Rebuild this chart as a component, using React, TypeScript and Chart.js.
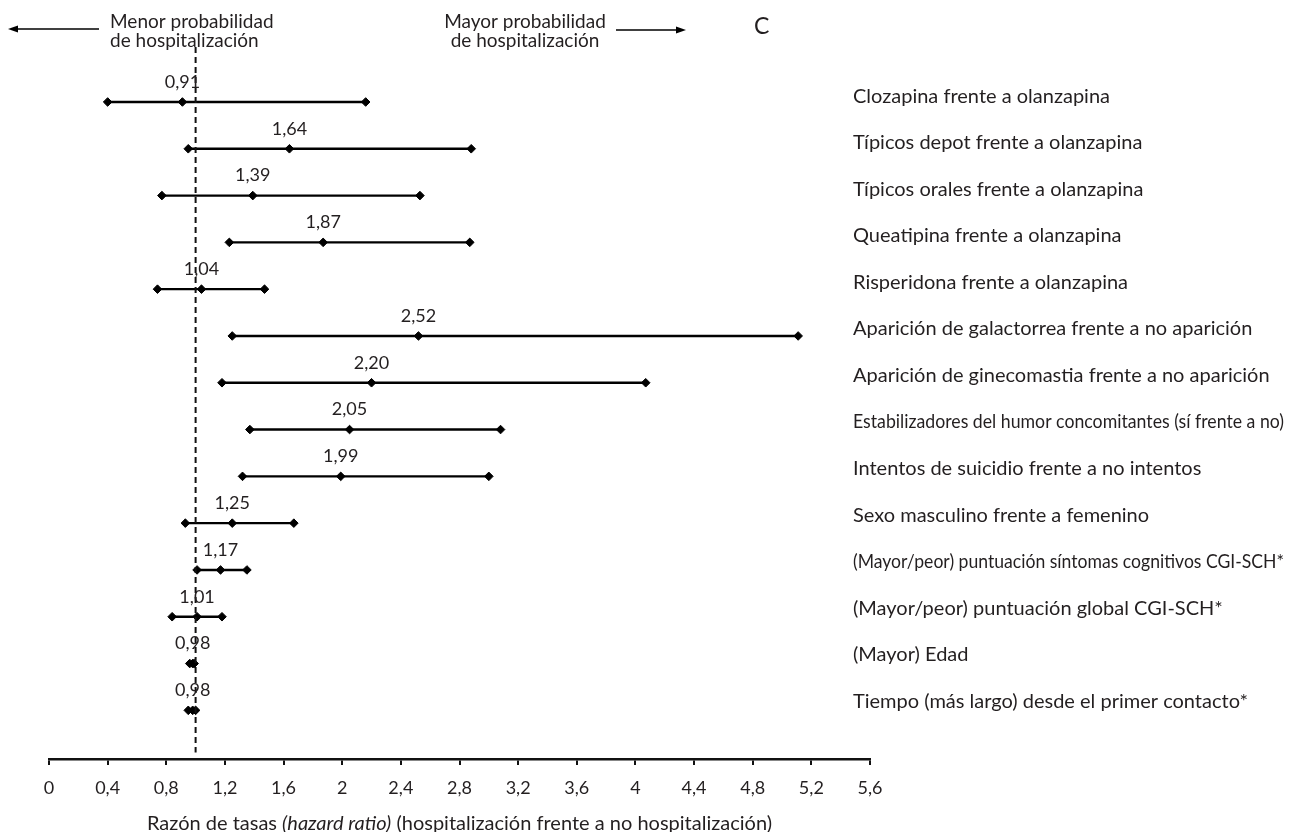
import React, { useEffect, useRef } from 'react';
import { Chart, registerables } from 'chart.js';

Chart.register(...registerables);

// ---- data ----
const categories = [
  'Clozapina frente a olanzapina',
  'Típicos depot frente a olanzapina',
  'Típicos orales frente a olanzapina',
  'Queatipina frente a olanzapina',
  'Risperidona frente a olanzapina',
  'Aparición de galactorrea frente a no aparición',
  'Aparición de ginecomastia frente a no aparición',
  'Estabilizadores del humor concomitantes (sí frente a no)',
  'Intentos de suicidio frente a no intentos',
  'Sexo masculino frente a femenino',
  '(Mayor/peor) puntuación síntomas cognitivos CGI-SCH*',
  '(Mayor/peor) puntuación global CGI-SCH*',
  '(Mayor) Edad',
  'Tiempo (más largo) desde el primer contacto*',
];
const hazardRatio = [0.91, 1.64, 1.39, 1.87, 1.04, 2.52, 2.2, 2.05, 1.99, 1.25, 1.17, 1.01, 0.98, 0.98];
const ciLow = [0.4, 0.95, 0.77, 1.23, 0.74, 1.25, 1.18, 1.37, 1.32, 0.93, 1.01, 0.84, 0.96, 0.95];
const ciHigh = [2.16, 2.88, 2.53, 2.87, 1.47, 5.11, 4.07, 3.08, 3.0, 1.67, 1.35, 1.18, 0.99, 1.0];
const hrLabels = ['0,91', '1,64', '1,39', '1,87', '1,04', '2,52', '2,20', '2,05', '1,99', '1,25', '1,17', '1,01', '0,98', '0,98'];
const xTickValues = [0, 0.4, 0.8, 1.2, 1.6, 2, 2.4, 2.8, 3.2, 3.6, 4, 4.4, 4.8, 5.2, 5.6];
const xTickLabels = ['0', '0,4', '0,8', '1,2', '1,6', '2', '2,4', '2,8', '3,2', '3,6', '4', '4,4', '4,8', '5,2', '5,6'];
const referenceValue = 1;
const headerLeft = ['Menor probabilidad', 'de hospitalización'];
const headerRight = ['Mayor probabilidad', 'de hospitalización'];
const panelLetter = 'C';
const axisTitleParts = [
  { text: 'Razón de tasas ', italic: false },
  { text: '(hazard ratio)', italic: true },
  { text: ' (hospitalización frente a no hospitalización)', italic: false },
];

const FAMILY = 'Lato, "Open Sans", "DejaVu Sans", sans-serif';
const INK = '#231f20';

export default function App() {
  const canvasRef = useRef<HTMLCanvasElement | null>(null);

  useEffect(() => {
    const canvas = canvasRef.current;
    if (!canvas) return;

    const yMin = -1.175;
    const yMax = 14.04;

    const rowSets: any[] = categories.map((_, i) => ({
      label: categories[i],
      data: [
        { x: ciLow[i], y: i },
        { x: hazardRatio[i], y: i },
        { x: ciHigh[i], y: i },
      ],
      showLine: true,
      borderColor: '#000',
      backgroundColor: '#000',
      borderWidth: 2.4,
      pointStyle: 'rectRot',
      pointRadius: 4.3,
      pointBorderWidth: 1,
      yAxisID: 'y',
    }));

    const refLine: any = {
      label: 'ref',
      data: [
        { x: referenceValue, y: yMin },
        { x: referenceValue, y: 13.9 },
      ],
      showLine: true,
      borderColor: '#111',
      borderWidth: 2,
      borderDash: [6, 4],
      pointRadius: 0,
      yAxisID: 'y',
    };

    const textPlugin = {
      id: 'forestText',
      afterDraw(chart: any) {
        const ctx = chart.ctx as CanvasRenderingContext2D;
        const xs = chart.scales.x;
        const ys = chart.scales.y;
        const yl = chart.scales.yLab;
        const area = chart.chartArea;
        ctx.save();
        ctx.fillStyle = INK;
        ctx.strokeStyle = '#000';

        // value labels above the points
        ctx.font = `18px ${FAMILY}`;
        ctx.textAlign = 'center';
        ctx.textBaseline = 'middle';
        hazardRatio.forEach((v, i) => {
          ctx.fillText(hrLabels[i], xs.getPixelForValue(v), ys.getPixelForValue(i) - 20);
        });

        // category labels on the right
        ctx.font = `20px ${FAMILY}`;
        ctx.textAlign = 'left';
        const lx = area.right - 17;
        categories.forEach((c, i) => {
          ctx.fillText(c, lx, yl.getPixelForValue(i), 1284 - lx);
        });

        // header
        ctx.font = `19px ${FAMILY}`;
        ctx.textBaseline = 'alphabetic';
        ctx.textAlign = 'left';
        ctx.fillText(headerLeft[0], 110, 28);
        ctx.fillText(headerLeft[1], 110, 47);
        ctx.textAlign = 'center';
        ctx.fillText(headerRight[0], 525, 28);
        ctx.fillText(headerRight[1], 525, 47);

        // arrows
        ctx.lineWidth = 1.6;
        ctx.beginPath();
        ctx.moveTo(14, 29);
        ctx.lineTo(99, 29);
        ctx.stroke();
        ctx.fillStyle = '#000';
        ctx.beginPath();
        ctx.moveTo(8, 29);
        ctx.lineTo(18, 25.5);
        ctx.lineTo(18, 32.5);
        ctx.closePath();
        ctx.fill();
        ctx.beginPath();
        ctx.moveTo(616, 30);
        ctx.lineTo(680, 30);
        ctx.stroke();
        ctx.beginPath();
        ctx.moveTo(686, 30);
        ctx.lineTo(676, 26.5);
        ctx.lineTo(676, 33.5);
        ctx.closePath();
        ctx.fill();

        // panel letter
        ctx.fillStyle = INK;
        ctx.font = `23px ${FAMILY}`;
        ctx.textAlign = 'left';
        ctx.fillText(panelLetter, 754, 34);

        // axis title with italic part
        const normalFont = `20px ${FAMILY}`;
        const italicFont = `italic 20px ${FAMILY}`;
        let total = 0;
        axisTitleParts.forEach((p) => {
          ctx.font = p.italic ? italicFont : normalFont;
          total += ctx.measureText(p.text).width;
        });
        let tx = (area.left + area.right) / 2 - total / 2;
        ctx.textAlign = 'left';
        axisTitleParts.forEach((p) => {
          ctx.font = p.italic ? italicFont : normalFont;
          ctx.fillText(p.text, tx, 830);
          tx += ctx.measureText(p.text).width;
        });
        ctx.restore();
      },
    };

    const chart = new Chart(canvas, {
      type: 'scatter',
      data: { datasets: [refLine, ...rowSets] },
      options: {
        animation: false,
        responsive: false,
        events: [],
        layout: { padding: { left: 49, right: 1294 - 870, top: 47, bottom: 0 } },
        plugins: { legend: { display: false }, tooltip: { enabled: false } },
        scales: {
          x: {
            type: 'linear',
            position: 'bottom',
            min: 0,
            max: 5.6,
            afterBuildTicks: (s: any) => {
              s.ticks = xTickValues.map((v) => ({ value: v }));
            },
            afterFit: (s: any) => {
              s.height = 832 - 759;
            },
            ticks: {
              autoSkip: false,
              maxRotation: 0,
              padding: 12,
              color: INK,
              font: { family: FAMILY, size: 18 },
              callback: (_v: any, idx: number) => xTickLabels[idx],
            },
            grid: {
              drawOnChartArea: false,
              drawTicks: true,
              tickLength: 6,
              color: '#111',
              lineWidth: 2,
            },
            border: { display: true, color: '#111', width: 2.5 },
          },
          y: {
            type: 'linear',
            display: false,
            reverse: true,
            min: yMin,
            max: yMax,
          },
          yLab: {
            type: 'linear',
            display: false,
            reverse: true,
            min: -1.055,
            max: 14.24,
          },
        },
      } as any,
      plugins: [textPlugin],
    });

    return () => chart.destroy();
  }, []);

  return (
    <div style={{ position: 'fixed', left: 0, top: 0, width: 1294, height: 832, background: '#fff' }}>
      <canvas ref={canvasRef} width={1294} height={832} style={{ display: 'block', width: 1294, height: 832 }} />
    </div>
  );
}
